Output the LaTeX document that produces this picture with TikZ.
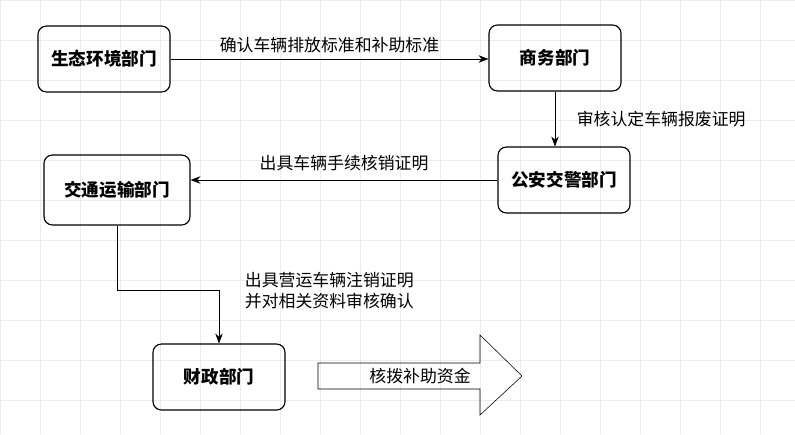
\documentclass[tikz,border=0pt]{standalone}
\usepackage{fontspec}
\setmainfont{Noto Sans CJK SC}
\usetikzlibrary{positioning,arrows.meta}
\tikzset{
  dept/.style={draw, thick, rounded corners=6pt, minimum width=3.3cm, minimum height=1.65cm, font=\bfseries\fontsize{12.5}{15}\selectfont},
  flow/.style={-{Stealth[length=7pt]}, thin},
  lbl/.style={font=\fontsize{12}{15}\selectfont}
}
\begin{document}
\begin{tikzpicture}[x=0.025cm, y=-0.025cm]
\useasboundingbox (0,0) rectangle (795,434);
% grid
\draw[gray!15, step=1cm] (0,0) grid (795,434);

% departments
\node[dept] (env) at (104,59) {生态环境部门};
\node[dept] (biz) at (555,58) {商务部门};
\node[dept] (police) at (564,180) {公安交警部门};
\node[dept, minimum width=3.65cm, minimum height=1.75cm] (trans) at (117,190) {交通运输部门};
\node[dept] (fin) at (219,377) {财政部门};
\coordinate (bend1) at (trans.south |- 0,290);
\coordinate (bend2) at (fin.north |- 0,290);

% connectors
\draw[flow] (env.east |- 0,59) -- (biz.west |- 0,59) node[lbl, midway, above=1pt] {确认车辆排放标准和补助标准};
\draw[flow] (biz.south -| 555,0) -- (police.north -| 555,0) node[lbl, midway, right=12pt] {审核认定车辆报废证明};
\draw[flow] (police.west) -- (trans.east |- police.west) node[lbl, midway, above=3pt] {出具车辆手续核销证明};
\draw[flow] (trans.south) -- (bend1) -- (bend2) -- (fin.north);
\node[lbl, align=left, anchor=west] (note) at (240,291) {出具营运车辆注销证明\\并对相关资料审核确认};

% big arrow
\draw (318,363) -- (480,363) -- (480,335) -- (522,376) -- (480,415) -- (480,389) -- (318,389) -- cycle;
\node[lbl] (fundtxt) at (420,376) {核拨补助资金};
\end{tikzpicture}
\end{document}
